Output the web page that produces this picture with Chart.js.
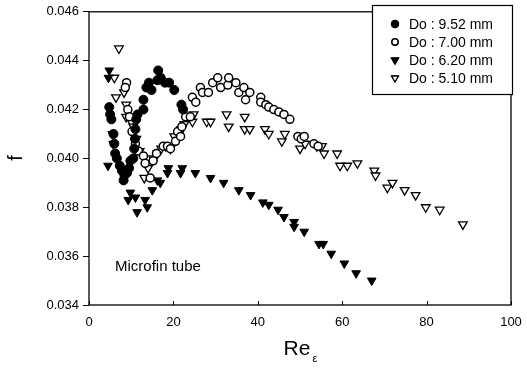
<!DOCTYPE html>
<html>
<head>
<meta charset="utf-8">
<script src="https://cdn.jsdelivr.net/npm/chart.js@4"></script>
<style>
  html, body { margin: 0; padding: 0; background: #fff; }
  #wrap { width: 527px; height: 376px; }
</style>
</head>
<body>
<div id="wrap"><canvas id="chart" width="527" height="376"></canvas></div>
<script>
const FONT = '"Liberation Sans", Arial, sans-serif'

// Do : 9.52 mm (filled circles)
const x952 = [4.8,5.0,5.3,5.8,6.0,6.2,6.6,7.3,7.8,8.4,9.0,9.5,8.2,9.8,10.5,10.7,10.9,11.0,11.2,11.5,12.9,12.9,13.6,14.2,14.8,16.4,16.2,17.0,18.0,19.0,20.2,21.9,22.3]
const y952 = [0.0421,0.0418,0.0416,0.0410,0.0406,0.0402,0.0400,0.0397,0.0395,0.0393,0.0394,0.0396,0.0391,0.0399,0.0400,0.0404,0.0408,0.0412,0.0416,0.0418,0.0420,0.0424,0.0429,0.0431,0.0428,0.0436,0.0432,0.0433,0.0431,0.0431,0.0428,0.0422,0.0420]

// Do : 7.00 mm (open circles)
const x700 = [8.9,8.6,9.2,9.6,10.2,11.0,11.7,12.9,13.3,14.5,15.2,16.0,17.6,18.6,19.3,20.5,21.0,21.7,22.0,22.9,24.0,24.5,25.3,26.4,26.9,28.3,29.3,30.5,31.2,32.9,33.1,34.8,35.5,36.7,37.1,38.1,40.7,40.7,41.9,42.6,43.8,45.0,46.2,47.6,49.5,50.3,51.0,53.3,54.3]
const y700 = [0.0431,0.0429,0.0420,0.0417,0.0411,0.0406,0.0403,0.0401,0.0398,0.0392,0.0399,0.0402,0.0405,0.0405,0.0404,0.0407,0.0411,0.0409,0.0413,0.0417,0.0417,0.0425,0.0423,0.0429,0.0427,0.0427,0.0431,0.0433,0.0429,0.0430,0.0433,0.0431,0.0427,0.0429,0.0424,0.0427,0.0425,0.0423,0.0422,0.0421,0.0420,0.0419,0.0418,0.0416,0.0409,0.0408,0.0409,0.0406,0.0405]

// Do : 6.20 mm (filled down triangles)
const x620 = [4.8,4.6,5.5,5.7,4.5,9.3,9.8,11.0,11.4,13.3,13.8,15.0,16.2,16.9,18.6,18.8,21.7,22.1,25.2,28.8,31.9,35.5,38.3,41.2,42.6,44.8,46.2,48.6,48.6,51.0,54.5,55.5,57.4,60.5,63.3,67.0]
const y620 = [0.0436,0.0433,0.0410,0.0406,0.0397,0.0383,0.0386,0.0384,0.0378,0.0383,0.0380,0.0387,0.0391,0.0390,0.0394,0.0396,0.0394,0.0396,0.0394,0.0392,0.0390,0.0387,0.0385,0.0382,0.0381,0.0379,0.0376,0.0374,0.0372,0.0370,0.0365,0.0365,0.0361,0.0357,0.0353,0.0350]

// Do : 5.10 mm (open down triangles)
const x510 = [7.1,6.0,6.4,8.3,8.8,8.8,10.0,10.5,11.2,12.0,13.1,14.0,15.2,16.2,17.1,18.2,19.3,20.2,21.4,21.9,22.6,24.8,24.5,27.9,28.8,32.6,33.1,36.9,36.9,38.1,41.7,42.6,45.7,46.4,50.0,51.2,54.0,55.2,55.7,58.8,59.5,61.2,63.6,67.6,67.9,70.7,71.9,74.8,77.4,79.8,83.1,88.6]
const y510 = [0.0445,0.0433,0.0425,0.0427,0.0422,0.0417,0.0415,0.0413,0.0408,0.0403,0.0392,0.0396,0.0400,0.0402,0.0404,0.0405,0.0404,0.0409,0.0410,0.0412,0.0414,0.0418,0.0415,0.0415,0.0415,0.0418,0.0413,0.0417,0.0412,0.0412,0.0412,0.0410,0.0407,0.0410,0.0404,0.0406,0.0405,0.0405,0.0402,0.0402,0.0397,0.0397,0.0398,0.0395,0.0393,0.0388,0.0390,0.0387,0.0385,0.0380,0.0379,0.0373]

const labels = ['Do : 9.52 mm', 'Do : 7.00 mm', 'Do : 6.20 mm', 'Do : 5.10 mm']
const xTicks = [0, 20, 40, 60, 80, 100]
const yTicks = [0.034, 0.036, 0.038, 0.040, 0.042, 0.044, 0.046]

function pairs(xs, ys) {
    return xs.map((x, i) => ({ x: x, y: ys[i] }))
}

const styles = [
    { pointStyle: 'circle', radius: 4.5, rotation: 0, fill: '#000', border: 1 },
    { pointStyle: 'circle', radius: 4, rotation: 0, fill: '#fff', border: 1.5 },
    { pointStyle: 'triangle', radius: 5, rotation: 180, fill: '#000', border: 1 },
    { pointStyle: 'triangle', radius: 5, rotation: 180, fill: '#fff', border: 1.3 }
]
const series = [pairs(x952, y952), pairs(x700, y700), pairs(x620, y620), pairs(x510, y510)]

const datasets = series.map((d, i) => ({
    label: labels[i],
    data: d,
    showLine: false,
    pointStyle: styles[i].pointStyle,
    pointRadius: styles[i].radius,
    pointRotation: styles[i].rotation,
    pointBackgroundColor: styles[i].fill,
    pointBorderColor: '#000',
    pointBorderWidth: styles[i].border,
    clip: false
}))

// frame, inward x ticks, legend box, titles and note
const decor = {
    id: 'decor',
    afterDraw(chart) {
        const c = chart.ctx
        const a = chart.chartArea
        const xs = chart.scales.x
        c.save()
        c.strokeStyle = '#000'
        c.lineWidth = 1.3
        c.strokeRect(a.left, a.top, a.right - a.left, a.bottom - a.top)
        c.lineWidth = 1
        xTicks.forEach(v => {
            const px = Math.round(xs.getPixelForValue(v)) + 0.5
            c.beginPath()
            c.moveTo(px, a.bottom)
            c.lineTo(px, a.bottom - 4)
            c.stroke()
        })

        // legend
        c.fillStyle = '#fff'
        c.fillRect(372, 5, 140, 90)
        c.lineWidth = 1.2
        c.strokeRect(372.5, 5.5, 140, 89)
        c.font = '14px ' + FONT
        c.textBaseline = 'middle'
        c.textAlign = 'left'
        const rows = [24, 42, 60, 78]
        rows.forEach((ry, i) => {
            const s = styles[i]
            Chart.helpers.drawPoint(c, {
                pointStyle: s.pointStyle,
                radius: s.radius * 0.8,
                rotation: s.rotation,
                borderWidth: s.border
            }, 395, ry)
            c.fillStyle = s.fill
            c.strokeStyle = '#000'
            c.lineWidth = s.border
            c.fill()
            c.stroke()
            c.fillStyle = '#000'
            c.fillText(labels[i], 409, ry + 1)
        })

        // note
        c.font = '15px ' + FONT
        c.fillText('Microfin tube', 115, 267)

        // axis titles
        c.font = '21px ' + FONT
        c.textAlign = 'center'
        c.fillText('Re', 297, 349)
        c.font = '11px ' + FONT
        c.fillText('\u03b5', 315, 359)
        c.save()
        c.translate(16, 158)
        c.rotate(-Math.PI / 2)
        c.font = '20px ' + FONT
        c.fillText('f', 0, 0)
        c.restore()
        c.restore()
    }
}

const config = {
    type: 'scatter',
    data: { datasets: datasets },
    options: {
        responsive: false,
        animation: false,
        events: [],
        layout: { padding: { left: 0, top: 11, right: 16, bottom: 0 } },
        scales: {
            x: {
                type: 'linear',
                min: 0,
                max: 100,
                afterBuildTicks: scale => { scale.ticks = xTicks.map(v => ({ value: v })) },
                afterFit: scale => { scale.height = 71 },
                grid: { display: false },
                border: { display: false },
                ticks: {
                    color: '#000',
                    padding: 2,
                    font: { family: FONT, size: 13 },
                    maxRotation: 0
                }
            },
            y: {
                type: 'linear',
                min: 0.034,
                max: 0.046,
                afterBuildTicks: scale => { scale.ticks = yTicks.map(v => ({ value: v })) },
                afterFit: scale => { scale.width = 89 },
                grid: {
                    drawOnChartArea: false,
                    tickLength: 6,
                    color: '#000',
                    tickColor: '#000'
                },
                border: { display: false },
                ticks: {
                    color: '#000',
                    padding: 4,
                    font: { family: FONT, size: 13 },
                    callback: v => v.toFixed(3)
                }
            }
        },
        plugins: {
            legend: { display: false },
            tooltip: { enabled: false }
        }
    },
    plugins: [decor]
}

new Chart(document.querySelector('#chart'), config)
</script>
</body>
</html>
